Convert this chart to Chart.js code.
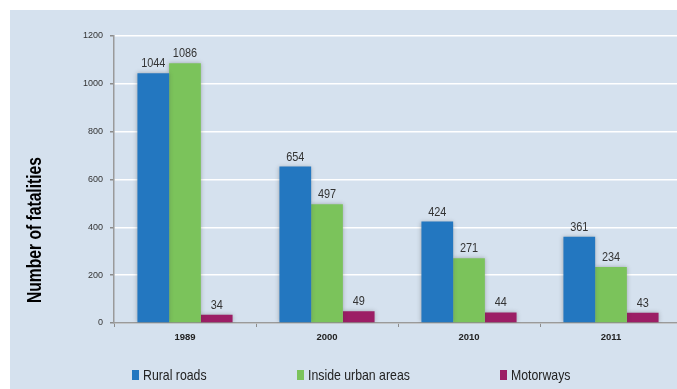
<!DOCTYPE html>
<html>
<head>
<meta charset="utf-8">
<script src="https://cdn.jsdelivr.net/npm/chart.js@4"></script>
<style>
  html, body { margin: 0; padding: 0; background: #fff; overflow: hidden; }
  #wrap {
    position: absolute; left: 10px; top: 10px;
    width: 672px; height: 379px;
    background: #d5e1ee;
  }
</style>
</head>
<body>
<div id="wrap"><canvas id="chart"></canvas></div>
<script>
// ─── Data ────────────────────────────────────────────────────
const years      = ['1989', '2000', '2010', '2011'];
const ruralRoads = [1044, 654, 424, 361];
const urbanAreas = [1086, 497, 271, 234];
const motorways  = [34, 49, 44, 43];
const seriesNames  = ['Rural roads', 'Inside urban areas', 'Motorways'];
const seriesColors = ['#2377c0', '#7bc35b', '#9c1e65'];
const yTicks = { min: 0, max: 1200, step: 200 };

const SANS = "'Liberation Sans', Arial, sans-serif";

// draw text squeezed horizontally (narrow look)
function narrowText(ctx, text, x, y, sx) {
  ctx.save();
  ctx.translate(x, y);
  ctx.scale(sx, 1);
  ctx.fillText(text, 0, 0);
  ctx.restore();
}

// ─── Plugins ─────────────────────────────────────────────────
// soft drop shadow behind the bars
const barShadow = {
  id: 'barShadow',
  beforeDatasetsDraw(chart) {
    const ctx = chart.ctx;
    ctx.save();
    ctx.shadowColor = 'rgba(60,60,60,0.35)';
    ctx.shadowBlur = 4;
    ctx.shadowOffsetX = 0;
    ctx.shadowOffsetY = 0;
  },
  afterDatasetsDraw(chart) {
    chart.ctx.restore();
  },
};

// value above each bar
const valueLabels = {
  id: 'valueLabels',
  afterDatasetsDraw(chart) {
    const ctx = chart.ctx;
    ctx.save();
    ctx.font = `13px ${SANS}`;
    ctx.fillStyle = '#333';
    ctx.textAlign = 'center';
    ctx.textBaseline = 'alphabetic';
    chart.data.datasets.forEach((ds, i) => {
      chart.getDatasetMeta(i).data.forEach((bar, j) => {
        narrowText(ctx, String(ds.data[j]), bar.x, bar.y - 6, 0.84);
      });
    });
    ctx.restore();
  },
};

// rotated axis title and the legend row
const decorations = {
  id: 'decorations',
  afterDraw(chart) {
    const ctx = chart.ctx;

    ctx.save();
    ctx.translate(25, 220);
    ctx.rotate(-Math.PI / 2);
    ctx.font = `bold 21px ${SANS}`;
    ctx.fillStyle = '#000';
    ctx.textAlign = 'center';
    ctx.textBaseline = 'middle';
    const title = 'Number of fatalities';
    const w = ctx.measureText(title).width;
    ctx.scale(146 / w, 1);
    ctx.fillText(title, 0, 0);
    ctx.restore();

    const legendX = [122, 287, 490];
    ctx.save();
    ctx.font = `15px ${SANS}`;
    ctx.textBaseline = 'middle';
    chart.data.datasets.forEach((ds, i) => {
      ctx.fillStyle = ds.backgroundColor;
      ctx.fillRect(legendX[i], 360, 7, 10);
      ctx.fillStyle = '#222';
      narrowText(ctx, ds.label, legendX[i] + 11, 366, 0.82);
    });
    ctx.restore();
  },
};

// ─── Chart ───────────────────────────────────────────────────
const datasets = [ruralRoads, urbanAreas, motorways].map((data, i) => ({
  label: seriesNames[i],
  data,
  backgroundColor: seriesColors[i],
  borderWidth: 0,
  categoryPercentage: 0.67,
  barPercentage: 1.0,
}));

new Chart(document.getElementById('chart'), {
  type: 'bar',
  data: { labels: years, datasets },
  options: {
    responsive: true,
    maintainAspectRatio: false,
    animation: false,
    layout: { padding: { top: 26, left: 0, right: 0, bottom: 0 } },
    plugins: {
      legend: { display: false },
      tooltip: { enabled: false },
    },
    scales: {
      x: {
        afterFit: (s) => { s.height = 66; },
        grid: {
          drawOnChartArea: false,
          drawTicks: true,
          tickLength: 4,
          tickColor: '#8c8c8c',
        },
        border: { color: '#9a9a9a', width: 1.5 },
        ticks: {
          color: '#222',
          padding: 5,
          font: { family: SANS, size: 9.5, weight: 'bold' },
        },
      },
      y: {
        min: yTicks.min,
        max: yTicks.max,
        afterFit: (s) => { s.width = 104; },
        grid: {
          color: '#ffffff',
          lineWidth: 1.5,
          tickLength: 4,
          tickColor: '#8c8c8c',
        },
        border: { color: '#9a9a9a', width: 1.5 },
        ticks: {
          stepSize: yTicks.step,
          color: '#333',
          padding: 7,
          font: { family: SANS, size: 9 },
          callback: (v) => String(v),
        },
      },
    },
  },
  plugins: [barShadow, valueLabels, decorations],
});
</script>
</body>
</html>
